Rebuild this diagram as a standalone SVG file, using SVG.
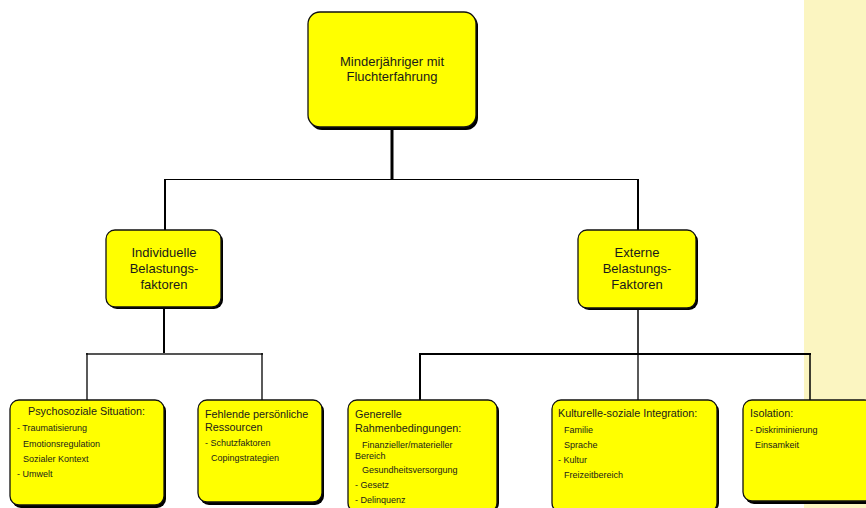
<svg xmlns="http://www.w3.org/2000/svg" width="866" height="508" viewBox="0 0 866 508">
<style>
.sh{fill:#000}
.bx{fill:#ffff00;stroke:#111;stroke-width:1.3}
.t{font-family:"Liberation Sans",Arial,sans-serif;fill:#1a1a1a}
.h{font-size:13px;text-anchor:middle}
.s{font-size:10.8px}
.i{font-size:9px}
.c{stroke:#000;fill:none}
</style>
<rect x="0" y="0" width="866" height="508" fill="#ffffff"/>
<rect x="804" y="0" width="62" height="508" fill="#fbf5c1"/>
<g id="connectors">
<line class="c" x1="392" y1="128" x2="392" y2="180" stroke-width="3"/>
<line class="c" x1="164" y1="179.5" x2="639" y2="179.5" stroke-width="1.2"/>
<line class="c" x1="165" y1="179" x2="165" y2="231" stroke-width="2"/>
<line class="c" x1="638" y1="179" x2="638" y2="231" stroke-width="2"/>
<line class="c" x1="164" y1="307" x2="164" y2="354" stroke-width="2"/>
<line x1="86" y1="354" x2="263" y2="354" stroke="#555" stroke-width="2"/>
<line class="c" x1="87" y1="353" x2="87" y2="401" stroke-width="1.3"/>
<line class="c" x1="262" y1="353" x2="262" y2="401" stroke-width="1.3"/>
<line class="c" x1="638" y1="308" x2="638" y2="355" stroke-width="1.5"/>
<line class="c" x1="419" y1="354" x2="811" y2="354" stroke-width="2"/>
<line class="c" x1="420" y1="353" x2="420" y2="401" stroke-width="2"/>
<line class="c" x1="638" y1="353" x2="638" y2="401" stroke-width="1.3"/>
<line class="c" x1="810" y1="353" x2="810" y2="401" stroke-width="1.5"/>
</g>
<g id="n-root">
<rect class="sh" x="310" y="14" width="168" height="116" rx="12"/>
<rect class="bx" x="308" y="12" width="168" height="115" rx="12"/>
<text class="t h" x="392" y="66">Minderjähriger mit</text>
<text class="t h" x="392" y="81">Fluchterfahrung</text>
</g>
<g id="n-individuell">
<rect class="sh" x="108" y="232" width="115" height="77" rx="9"/>
<rect class="bx" x="106" y="230" width="115" height="77" rx="9"/>
<text class="t h" x="164" y="257">Individuelle</text>
<text class="t h" x="164" y="273">Belastungs-</text>
<text class="t h" x="164" y="289">faktoren</text>
</g>
<g id="n-extern">
<rect class="sh" x="580" y="232" width="118" height="78" rx="9"/>
<rect class="bx" x="578" y="230" width="118" height="78" rx="9"/>
<text class="t h" x="637" y="257">Externe</text>
<text class="t h" x="637" y="273">Belastungs-</text>
<text class="t h" x="637" y="289">Faktoren</text>
</g>
<g id="n-psycho">
<rect class="sh" x="12" y="402" width="154" height="106" rx="9"/>
<rect class="bx" x="10" y="400" width="154" height="105" rx="9"/>
<text class="t s" x="28" y="415">Psychosoziale Situation:</text>
<text class="t i" x="17" y="431">- Traumatisierung</text>
<text class="t i" x="23" y="447">Emotionsregulation</text>
<text class="t i" x="23" y="462">Sozialer Kontext</text>
<text class="t i" x="17" y="477">- Umwelt</text>
</g>
<g id="n-ressourcen">
<rect class="sh" x="200" y="402" width="124" height="103" rx="9"/>
<rect class="bx" x="198" y="400" width="124" height="102" rx="9"/>
<text class="t s" x="205" y="418">Fehlende persönliche</text>
<text class="t s" x="205" y="431">Ressourcen</text>
<text class="t i" x="205" y="446">- Schutzfaktoren</text>
<text class="t i" x="211" y="461">Copingstrategien</text>
</g>
<g id="n-rahmen">
<rect class="sh" x="350" y="402" width="149" height="110" rx="9"/>
<rect class="bx" x="348" y="400" width="149" height="112" rx="9"/>
<text class="t s" x="355" y="418">Generelle</text>
<text class="t s" x="355" y="432">Rahmenbedingungen:</text>
<text class="t i" x="362" y="448">Finanzieller/materieller</text>
<text class="t i" x="355" y="459">Bereich</text>
<text class="t i" x="362" y="473">Gesundheitsversorgung</text>
<text class="t i" x="355" y="488">- Gesetz</text>
<text class="t i" x="355" y="503">- Delinquenz</text>
</g>
<g id="n-kultur">
<rect class="sh" x="554" y="402" width="165" height="110" rx="9"/>
<rect class="bx" x="552" y="400" width="165" height="112" rx="9"/>
<text class="t s" x="558" y="417">Kulturelle-soziale Integration:</text>
<text class="t i" x="564" y="433">Familie</text>
<text class="t i" x="564" y="448">Sprache</text>
<text class="t i" x="558" y="463">- Kultur</text>
<text class="t i" x="564" y="478">Freizeitbereich</text>
</g>
<g id="n-isolation">
<rect class="sh" x="745" y="402" width="130" height="102" rx="9"/>
<rect class="bx" x="743" y="400" width="130" height="101" rx="9"/>
<text class="t s" x="750" y="417">Isolation:</text>
<text class="t i" x="750" y="433">- Diskriminierung</text>
<text class="t i" x="755" y="448">Einsamkeit</text>
</g>
</svg>
